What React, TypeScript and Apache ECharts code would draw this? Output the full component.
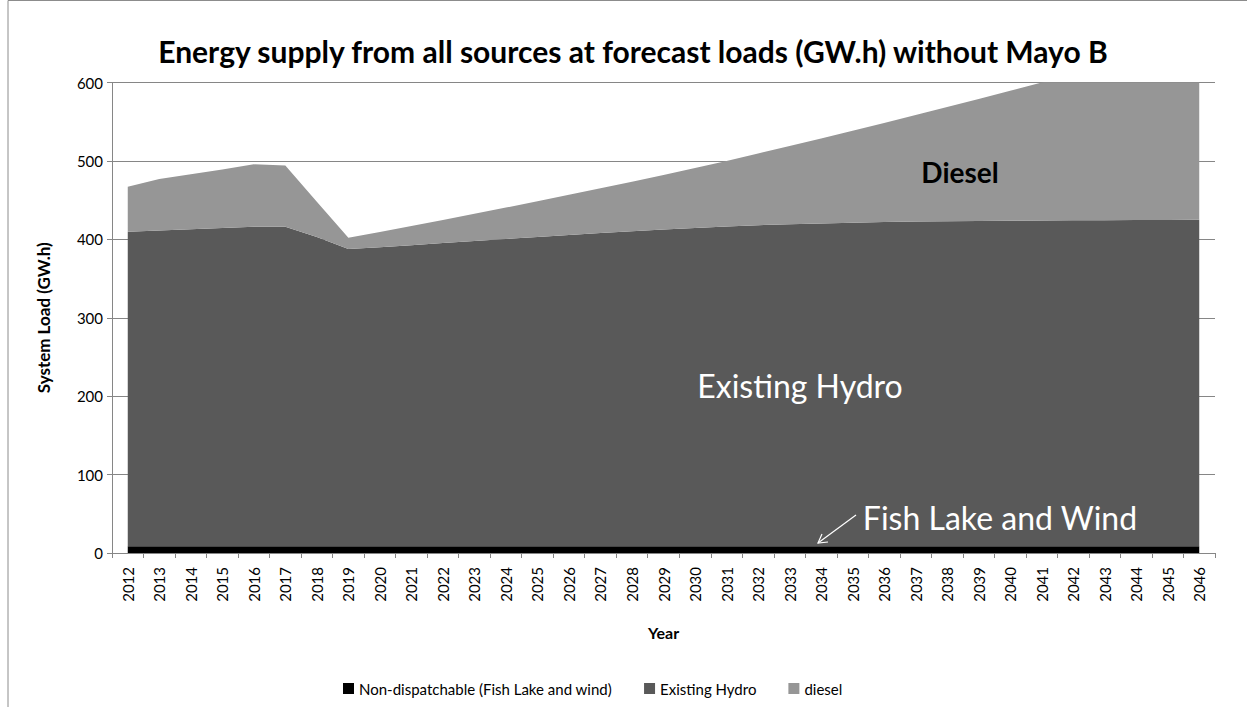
import React, { useEffect, useRef } from "react";
import * as echarts from "echarts";

const years = [
  "2012","2013","2014","2015","2016","2017","2018","2019","2020","2021","2022","2023",
  "2024","2025","2026","2027","2028","2029","2030","2031","2032","2033","2034","2035",
  "2036","2037","2038","2039","2040","2041","2042","2043","2044","2045","2046",
];

const nonDispatchable = [
  8.5, 8.5, 8.5, 8.5, 8.5, 8.5, 8.5, 8.5, 8.5, 8.5, 8.5, 8.5,
  8.5, 8.5, 8.5, 8.5, 8.5, 8.5, 8.5, 8.5, 8.5, 8.5, 8.5, 8.5,
  8.5, 8.5, 8.5, 8.5, 8.5, 8.5, 8.5, 8.5, 8.5, 8.5, 8.5,
];

const existingHydro = [
  401.2, 402.9, 404.5, 406.1, 407.5, 407.5, 394.5, 379.2, 381.5, 384.0, 386.8, 389.5,
  392.0, 394.5, 397.0, 399.5, 401.8, 404.0, 406.0, 408.0, 409.5, 410.8, 411.8, 412.7,
  413.5, 414.1, 414.5, 414.9, 415.2, 415.5, 415.7, 415.9, 416.1, 416.3, 416.5,
];

const diesel = [
  57.3, 65.6, 70.0, 74.4, 79.6, 78.0, 45.0, 14.3, 19.5, 24.5, 29.3, 34.5,
  40.0, 45.5, 51.3, 57.0, 63.1, 69.5, 76.5, 83.5, 91.5, 99.7, 108.2, 117.3,
  126.5, 135.9, 145.7, 155.6, 165.8, 176.0, 186.3, 196.6, 206.9, 217.2, 227.5,
];

const FONT = "Lato, 'Noto Sans', sans-serif";

export default function App() {
  const ref = useRef<HTMLDivElement>(null);

  useEffect(() => {
    if (!ref.current) return;
    const chart = echarts.init(ref.current, undefined, { renderer: "svg" });

    const mkSeries = (name: string, data: number[], color: string) => ({
      name,
      type: "line",
      stack: "total",
      data,
      showSymbol: false,
      symbol: "none",
      lineStyle: { width: 0 },
      areaStyle: { color, opacity: 1 },
      itemStyle: { color },
      clip: true,
    });

    chart.setOption({
      animation: false,
      backgroundColor: "#ffffff",
      textStyle: { fontFamily: FONT },
      title: {
        text: "Energy supply from all sources at forecast loads (GW.h) without Mayo B",
        left: 628,
        textAlign: "center",
        top: 31,
        textStyle: { fontFamily: FONT, fontSize: 30, fontWeight: "bold", color: "#000" },
      },
      legend: {
        top: 676,
        left: 338,
        icon: "rect",
        itemWidth: 11,
        itemHeight: 11,
        itemGap: 32,
        textStyle: { fontFamily: FONT, fontSize: 15, color: "#000" },
        data: ["Non-dispatchable (Fish Lake and wind)", "Existing Hydro", "diesel"],
      },
      grid: { left: 112, right: 32, top: 82.5, bottom: 154, containLabel: false },
      xAxis: {
        type: "category",
        data: years,
        boundaryGap: true,
        name: "Year",
        nameLocation: "middle",
        nameGap: 71,
        nameTextStyle: { fontFamily: FONT, fontSize: 16, fontWeight: "bold", color: "#000" },
        axisLine: { show: true, lineStyle: { color: "#868686", width: 1 } },
        axisTick: { show: true, alignWithLabel: false, length: 5, interval: 0, lineStyle: { color: "#868686" } },
        axisLabel: { rotate: 90, interval: 0, fontSize: 15, color: "#000", margin: 14, fontFamily: FONT },
        splitLine: { show: false },
      },
      yAxis: {
        type: "value",
        min: 0,
        max: 600,
        interval: 100,
        name: "System Load (GW.h)",
        nameLocation: "middle",
        nameGap: 60,
        nameRotate: 90,
        nameTextStyle: { fontFamily: FONT, fontSize: 17, fontWeight: "bold", color: "#000" },
        axisLine: { show: true, lineStyle: { color: "#868686", width: 1 } },
        axisTick: { show: true, inside: false, length: 5, lineStyle: { color: "#868686" } },
        axisLabel: { fontSize: 15, color: "#000", margin: 9, fontFamily: FONT },
        splitLine: { show: true, lineStyle: { color: "#868686", width: 1 } },
      },
      series: [
        mkSeries("Non-dispatchable (Fish Lake and wind)", nonDispatchable, "#000000"),
        mkSeries("Existing Hydro", existingHydro, "#595959"),
        mkSeries("diesel", diesel, "#969696"),
      ],
      graphic: [
        {
          type: "rect",
          shape: { x: 8, y: 0.5, width: 1400, height: 900 },
          style: { fill: "none", stroke: "#8c8c8c", lineWidth: 1 },
          silent: true,
          z: 100,
        },
        {
          type: "text",
          x: 800,
          y: 385,
          style: {
            text: "Existing Hydro",
            fill: "#ffffff",
            font: "32px " + FONT,
            textAlign: "center",
            textVerticalAlign: "middle",
          },
          z: 100,
        },
        {
          type: "text",
          x: 1000,
          y: 517,
          style: {
            text: "Fish Lake and Wind",
            fill: "#ffffff",
            font: "32px " + FONT,
            textAlign: "center",
            textVerticalAlign: "middle",
          },
          z: 100,
        },
        {
          type: "text",
          x: 960,
          y: 172,
          style: {
            text: "Diesel",
            fill: "#000000",
            font: "bold 28px " + FONT,
            textAlign: "center",
            textVerticalAlign: "middle",
          },
          z: 100,
        },
        {
          type: "line",
          shape: { x1: 856, y1: 515, x2: 818, y2: 543 },
          style: { stroke: "#ffffff", lineWidth: 1.2 },
          z: 100,
        },
        {
          type: "polyline",
          shape: { points: [[828, 542], [818, 543], [822, 534]] },
          style: { stroke: "#ffffff", lineWidth: 1.2, fill: "none" },
          z: 100,
        },
      ],
    });

    return () => chart.dispose();
  }, []);

  return (
    <div
      ref={ref}
      style={{ position: "fixed", left: 0, top: 0, width: 1247, height: 707, background: "#fff" }}
    />
  );
}
